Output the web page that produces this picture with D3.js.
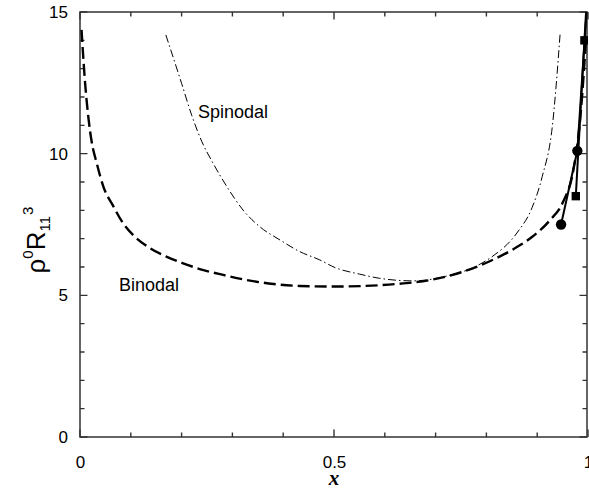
<!DOCTYPE html>
<html><head><meta charset="utf-8">
<script src="https://cdn.jsdelivr.net/npm/d3@7"></script>
<style>body{margin:0;background:#fff}svg{display:block}</style>
</head><body>
<script>
// ---- data ----
const binodalX = [0.003,0.01,0.017,0.023,0.033,0.046,0.066,0.085,0.108,0.138,0.171,0.203,0.243,0.282,0.328,0.381,0.433,0.499,0.558,0.623,0.689,0.755,0.8,0.85,0.889,0.925,0.951,0.971,0.985,0.996];
const binodalY = [14.37,12.5,11.2,10.42,9.66,8.84,8.13,7.54,7.07,6.66,6.36,6.13,5.89,5.72,5.54,5.40,5.33,5.31,5.33,5.40,5.54,5.84,6.15,6.6,7.05,7.65,8.3,9.4,11.3,14.0];
const spinodalX = [0.169,0.2,0.22,0.24,0.262,0.289,0.321,0.354,0.394,0.433,0.472,0.502,0.55,0.59,0.656,0.722,0.774,0.81,0.86,0.89,0.91,0.93,0.945];
const spinodalY = [14.19,12.48,11.35,10.42,9.66,8.84,8.01,7.42,6.95,6.54,6.25,5.98,5.75,5.6,5.51,5.68,5.98,6.35,7.2,8.1,9.2,11.0,14.2];
const circleX = [0.947,0.979,1.0];
const circleY = [7.5,10.1,15.8];
const squareX = [0.976,0.993,1.0];
const squareY = [8.5,14.0,16.2];
const xMajor = [0,0.5,1];
const xMajorLabels = ["0","0.5","1"];
const yMajor = [0,5,10,15];
const yMajorLabels = ["0","5","10","15"];
const xMinor = [0.1,0.2,0.3,0.4,0.6,0.7,0.8,0.9];
const yMinor = [1,2,3,4,6,7,8,9,11,12,13,14];

const W = 589, H = 489;
const m = {l:80, r:1, t:12, b:52};
const pw = W - m.l - m.r, ph = H - m.t - m.b;
const svg = d3.select("body").append("svg").attr("width",W).attr("height",H);
const x = d3.scaleLinear().domain([0,1]).range([m.l, m.l+pw]);
const y = d3.scaleLinear().domain([0,15]).range([m.t+ph, m.t]);
const font = "'Liberation Sans', Arial, Helvetica, sans-serif";
const axisColor = "#333";
const x0 = m.l, x1 = m.l+pw-1, y0 = m.t+ph, y1 = m.t;
const minorLen = 4.5, majorLen = 7.5;

svg.append("clipPath").attr("id","clip").append("rect")
  .attr("x",m.l).attr("y",m.t).attr("width",pw).attr("height",ph);

function styleAxis(g){
  g.select(".domain").remove();
  g.selectAll(".tick line").remove();
  g.selectAll("text").attr("fill","#000").style("font-family",font).style("font-size","17px");
}
svg.append("g").attr("transform",`translate(0,${y0})`)
  .call(d3.axisBottom(x).tickValues(xMajor).tickSize(0).tickPadding(19).tickFormat((d,i)=>xMajorLabels[i])).call(styleAxis);
svg.append("g").attr("transform",`translate(${x0},0)`)
  .call(d3.axisLeft(y).tickValues(yMajor).tickSize(0).tickPadding(12).tickFormat((d,i)=>yMajorLabels[i])).call(styleAxis);

// frame
svg.append("rect").attr("x",x0).attr("y",y1).attr("width",x1-x0).attr("height",y0-y1)
  .attr("fill","none").attr("stroke",axisColor).attr("stroke-width",1.5);

// inward tick marks on all four sides
const tickPath = d3.path();
function xt(v,len){ tickPath.moveTo(x(v),y0); tickPath.lineTo(x(v),y0-len); tickPath.moveTo(x(v),y1); tickPath.lineTo(x(v),y1+len); }
function yt(v,len){ tickPath.moveTo(x0,y(v)); tickPath.lineTo(x0+len,y(v)); tickPath.moveTo(x1,y(v)); tickPath.lineTo(x1-len,y(v)); }
xMinor.forEach(v=>xt(v,minorLen)); xMajor.forEach(v=>xt(v,majorLen));
yMinor.forEach(v=>yt(v,minorLen)); yMajor.forEach(v=>yt(v,majorLen));
svg.append("path").attr("d",tickPath.toString()).attr("fill","none").attr("stroke",axisColor).attr("stroke-width",1.4);

const plot = svg.append("g").attr("clip-path","url(#clip)");
const smooth = d3.line().curve(d3.curveMonotoneX);
const straight = d3.line();

plot.append("path").attr("d", smooth(binodalX.map((d,i)=>[x(d),y(binodalY[i])])))
  .attr("fill","none").attr("stroke","#000").attr("stroke-width",2.4).attr("stroke-dasharray","12,5");
plot.append("path").attr("d", smooth(spinodalX.map((d,i)=>[x(d),y(spinodalY[i])])))
  .attr("fill","none").attr("stroke","#000").attr("stroke-width",1).attr("stroke-dasharray","8,3,1.5,3");

plot.append("path").attr("d", straight(circleX.map((d,i)=>[x(d),y(circleY[i])])))
  .attr("fill","none").attr("stroke","#000").attr("stroke-width",2);
plot.append("path").attr("d", straight(squareX.map((d,i)=>[x(d),y(squareY[i])])))
  .attr("fill","none").attr("stroke","#000").attr("stroke-width",2);
plot.selectAll("circle.c").data(circleX).enter().append("circle")
  .attr("cx",d=>x(d)).attr("cy",(d,i)=>y(circleY[i])).attr("r",5.2).attr("fill","#000");
plot.selectAll("rect.s").data(squareX).enter().append("rect")
  .attr("x",d=>x(d)-4.2).attr("y",(d,i)=>y(squareY[i])-4.2).attr("width",8.4).attr("height",8.4).attr("fill","#000");

// labels
svg.append("text").attr("x",198).attr("y",118).text("Spinodal")
  .style("font-family",font).style("font-size","18px");
svg.append("text").attr("x",119).attr("y",291).text("Binodal")
  .style("font-family",font).style("font-size","18px");

svg.append("text").attr("x",m.l+pw/2).attr("y",485).attr("text-anchor","middle").text("x")
  .style("font-family","'Liberation Serif','DejaVu Serif',serif").style("font-size","21px")
  .style("font-weight","bold").style("font-style","italic");

const yl = svg.append("text").attr("transform","translate(45,240) rotate(-90)")
  .attr("text-anchor","middle").attr("fill","#000").style("font-family",font).style("font-size","26px");
yl.append("tspan").text("ρ");
yl.append("tspan").attr("dy",-12).style("font-size","15px").text("0");
yl.append("tspan").attr("dy",12).text("R");
yl.append("tspan").attr("dy",5).style("font-size","15px").text("11");
yl.append("tspan").attr("dy",-17).attr("dx",1).style("font-size","15px").text("3");
</script>
</body></html>
